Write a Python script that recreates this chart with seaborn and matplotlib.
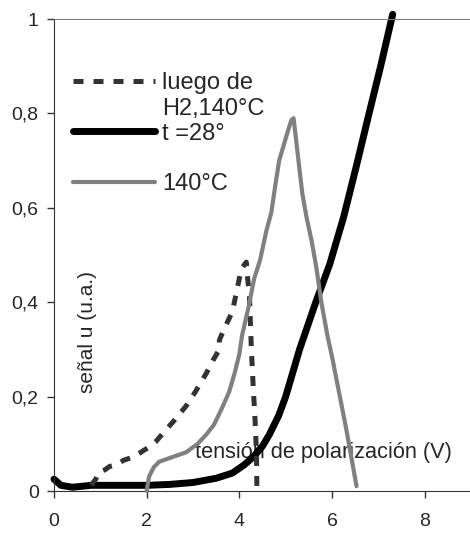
import matplotlib
matplotlib.use('Agg')
import matplotlib.pyplot as plt
from matplotlib.lines import Line2D
import seaborn as sns

# curva punteada: luego de H2, 140°C
h2_x = [0.8, 0.9, 0.97, 1.1, 1.2, 1.34, 1.5, 1.65, 1.84, 2.05, 2.2, 2.42, 2.6, 2.85,
        3.05, 3.29, 3.45, 3.57, 3.57, 3.68, 3.85, 4.0, 4.04, 4.15, 4.17, 4.22, 4.26,
        4.3, 4.34, 4.37, 4.38]
h2_y = [0.012, 0.025, 0.04, 0.045, 0.052, 0.055, 0.065, 0.07, 0.08, 0.093, 0.105, 0.13,
        0.15, 0.18, 0.21, 0.25, 0.28, 0.30, 0.32, 0.345, 0.38, 0.45, 0.47, 0.485, 0.46,
        0.41, 0.3, 0.22, 0.15, 0.08, 0.0]

# curva negra: t = 28°
t28_x = [0.0, 0.15, 0.4, 0.8, 1.5, 2.0, 2.5, 3.0, 3.5, 3.85, 4.1, 4.3, 4.5, 4.65, 4.85,
         5.0, 5.3, 5.65, 5.95, 6.25, 6.53, 6.8, 7.05, 7.31]
t28_y = [0.025, 0.012, 0.008, 0.012, 0.012, 0.012, 0.014, 0.018, 0.027, 0.038, 0.055,
         0.072, 0.095, 0.12, 0.16, 0.2, 0.3, 0.4, 0.48, 0.58, 0.69, 0.8, 0.9, 1.01]

# curva gris: 140°C
t140_x = [2.0, 2.05, 2.15, 2.27, 2.5, 2.85, 3.1, 3.29, 3.45, 3.6, 3.78, 3.9, 4.0, 4.06,
          4.2, 4.32, 4.45, 4.58, 4.69, 4.78, 4.86, 4.95, 5.04, 5.12, 5.17, 5.23, 5.3,
          5.36, 5.45, 5.56, 5.66, 5.77, 5.9, 6.01, 6.15, 6.31, 6.42, 6.53]
t140_y = [0.0, 0.03, 0.05, 0.062, 0.07, 0.082, 0.1, 0.12, 0.14, 0.17, 0.21, 0.25, 0.29,
          0.33, 0.39, 0.45, 0.49, 0.55, 0.59, 0.65, 0.70, 0.73, 0.76, 0.785, 0.79, 0.74,
          0.68, 0.63, 0.58, 0.53, 0.475, 0.40, 0.33, 0.28, 0.21, 0.13, 0.07, 0.01]

x_ticks = [0, 2, 4, 6, 8]
y_ticks = [0, 0.2, 0.4, 0.6, 0.8, 1.0]
y_tick_labels = ['0', '0,2', '0,4', '0,6', '0,8', '1']

sns.set_style('ticks')
plt.rcParams['font.family'] = ['Liberation Sans', 'DejaVu Sans']

fig = plt.figure(figsize=(4.7, 5.33), dpi=100)
ax = fig.add_axes([54 / 470, 42 / 533, 417 / 470, 472 / 533])

sns.lineplot(x=h2_x, y=h2_y, ax=ax, estimator=None, sort=False, color='#333333',
             lw=3.6, linestyle=(0, (2, 2)), dash_capstyle='butt', clip_on=False,
             zorder=3, legend=False)
sns.lineplot(x=t28_x, y=t28_y, ax=ax, estimator=None, sort=False, color='black',
             lw=5, clip_on=False, zorder=2, legend=False)
sns.lineplot(x=t140_x, y=t140_y, ax=ax, estimator=None, sort=False, color='#808080',
             lw=3, clip_on=False, zorder=4, legend=False)

ax.set_xlim(0, 9)
ax.set_ylim(0, 1)
ax.set_xticks(x_ticks)
ax.set_yticks(y_ticks, labels=y_tick_labels)
ax.tick_params(direction='out', length=5, width=1, labelsize=14, color='#333333')
ax.tick_params(axis='x', pad=11)
ax.tick_params(axis='y', pad=6)

ax.spines['right'].set_visible(False)
ax.spines['top'].set_color('#808080')
ax.spines['left'].set_color('#333333')
ax.spines['bottom'].set_color('#333333')

ax.set_xlabel('tensión de polarización (V)', fontsize=15.7)
ax.xaxis.set_label_coords(0.645, 0.103)
ax.set_ylabel('señal u (u.a.)', fontsize=15)
ax.yaxis.set_label_coords(0.103, 0.337)

blank = Line2D([], [], color='none')
handles = [ax.lines[0], blank, ax.lines[1], blank, ax.lines[2]]
labels = ['luego de', 'H2,140°C', 't =28°', '', '140°C']
ax.legend(handles, labels, loc='upper left', bbox_to_anchor=(0.0456, 0.887),
          frameon=False, fontsize=17, handlelength=3.47, handletextpad=0.3,
          labelspacing=0.135, borderpad=0, borderaxespad=0)

fig.savefig('out.png', dpi=100)
plt.close(fig)
